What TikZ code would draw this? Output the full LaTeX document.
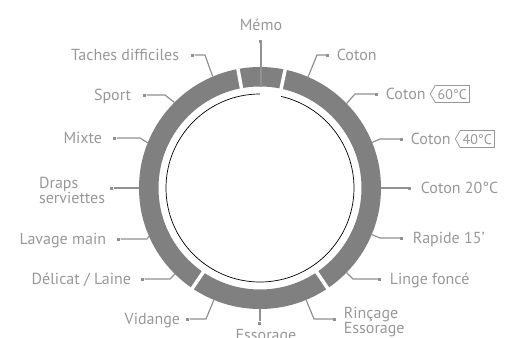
\documentclass[tikz,border=0pt]{standalone}
\usepackage{fontspec}
\setmainfont{PT Sans}
\usetikzlibrary{positioning, shapes.symbols}
\usepackage{xcolor}
\definecolor{ringgray}{RGB}{128,128,128}
\definecolor{linegray}{RGB}{145,145,145}
\definecolor{textgray}{RGB}{152,152,152}

\begin{document}
\begin{tikzpicture}[x=1pt, y=1pt,
  lbl/.style={font=\fontsize{16}{15}\selectfont, text=textgray, inner sep=0pt,
              text height=11.2pt, text depth=0pt},
  lbltwo/.style={font=\fontsize{16}{15}\selectfont, text=textgray, inner sep=0pt, align=left},
  endpt/.style={rectangle, fill=linegray, minimum size=3pt, inner sep=0pt},
  con/.style={linegray, line width=1.2pt},
  cut/.style={white, line width=3.5pt},
  badge/.style={shape=signal, signal to=west, signal pointer angle=120, draw=textgray,
                line width=0.8pt, text=textgray, font=\fontsize{14}{14}\selectfont,
                text height=10pt, text depth=0pt, inner xsep=2.5pt, inner ysep=3.5pt}
]
\useasboundingbox (-260,-150) rectangle (247,188);

% selector ring
\fill[ringgray, even odd rule] (0,0) circle[radius=121] (0,0) circle[radius=101.5];
\foreach \a in {100.5, 78, -56, -124}
  \draw[cut] (\a:97) -- (\a:125);
\draw[black, line width=0.7pt] (90:94) arc[start angle=90, end angle=437, radius=94];

% top
\coordinate (rMemo) at (1,101.5);
\node[endpt] (dMemo) at (1,147) {};
\node[lbl, above=8.5pt of dMemo] (tMemo) {Mémo};
\draw[con] (rMemo) -- (dMemo);

% right side
\coordinate (rCoton) at (66.6:121);
\coordinate (bCoton) at (57,133);
\node[endpt] (dCoton) at (68,133) {};
\node[lbl, right=7pt of dCoton] (tCoton) {Coton};
\draw[con] (rCoton) -- (bCoton) -- (dCoton);

\coordinate (rC60) at (44.3:121);
\coordinate (bC60) at (95,94);
\node[endpt] (dC60) at (117,94) {};
\node[lbl, right=7pt of dC60] (tC60) {Coton};
\node[badge, right=4pt of tC60] (b60) {60°C};
\draw[con] (rC60) -- (bC60) -- (dC60);

\coordinate (rC40) at (22.1:121);
\coordinate (bC40) at (120,49);
\node[endpt] (dC40) at (142,49) {};
\node[lbl, right=7pt of dC40] (tC40) {Coton};
\node[badge, right=4pt of tC40] (b40) {40°C};
\draw[con] (rC40) -- (bC40) -- (dC40);

\coordinate (rC20) at (0:121);
\node[endpt] (dC20) at (150,0) {};
\node[lbl, right=9pt of dC20] (tC20) {Coton 20°C};
\draw[con] (rC20) -- (dC20);

\coordinate (rRap) at (-22.6:121);
\coordinate (bRap) at (120,-50);
\node[endpt] (dRap) at (142,-50) {};
\node[lbl, right=9pt of dRap] (tRap) {Rapide 15'};
\draw[con] (rRap) -- (bRap) -- (dRap);

\coordinate (rLin) at (-44.3:121);
\coordinate (bLin) at (93,-91);
\node[endpt] (dLin) at (120,-91) {};
\node[lbl, right=8pt of dLin] (tLin) {Linge foncé};
\draw[con] (rLin) -- (bLin) -- (dLin);

\coordinate (rRin) at (-67.6:121);
\coordinate (bRin) at (54,-131);
\node[endpt] (dRin) at (75,-131) {};
\node[lbltwo, right=7pt of dRin, yshift=-3pt] (tRin) {Rinçage\\Essorage};
\draw[con] (rRin) -- (bRin) -- (dRin);

% bottom
\coordinate (rEss) at (0,-121);
\node[endpt] (dEss) at (0,-135) {};
\node[lbl, below=4.5pt of dEss, xshift=6pt] (tEss) {Essorage};
\draw[con] (rEss) -- (dEss);

% left side
\coordinate (rVid) at (-112.4:121);
\coordinate (bVid) at (-54,-131);
\node[endpt] (dVid) at (-72,-131) {};
\node[lbl, left=6pt of dVid] (tVid) {Vidange};
\draw[con] (rVid) -- (bVid) -- (dVid);

\coordinate (rDel) at (-134.7:121);
\coordinate (bDel) at (-90,-91);
\node[endpt] (dDel) at (-117,-91) {};
\node[lbl, left=10pt of dDel] (tDel) {Délicat / Laine};
\draw[con] (rDel) -- (bDel) -- (dDel);

\coordinate (rLav) at (-156.5:121);
\coordinate (bLav) at (-113,-51);
\node[endpt] (dLav) at (-141,-51) {};
\node[lbl, left=11pt of dLav] (tLav) {Lavage main};
\draw[con] (rLav) -- (bLav) -- (dLav);

\coordinate (rDra) at (180:121);
\node[endpt] (dDra) at (-148,0) {};
\node[lbltwo, left=5pt of dDra, yshift=-2pt] (tDra) {Draps\\serviettes};
\draw[con] (rDra) -- (dDra);

\coordinate (rMix) at (158.1:121);
\coordinate (bMix) at (-120,50);
\node[endpt] (dMix) at (-145,50) {};
\node[lbl, left=11pt of dMix] (tMix) {Mixte};
\draw[con] (rMix) -- (bMix) -- (dMix);

\coordinate (rSpo) at (135:121);
\coordinate (bSpo) at (-95,93);
\node[endpt] (dSpo) at (-115,93) {};
\node[lbl, left=12pt of dSpo] (tSpo) {Sport};
\draw[con] (rSpo) -- (bSpo) -- (dSpo);

\coordinate (rTac) at (113:121);
\coordinate (bTac) at (-55,133);
\node[endpt] (dTac) at (-67,133) {};
\node[lbl, left=12pt of dTac] (tTac) {Taches difficiles};
\draw[con] (rTac) -- (bTac) -- (dTac);
\end{tikzpicture}
\end{document}
